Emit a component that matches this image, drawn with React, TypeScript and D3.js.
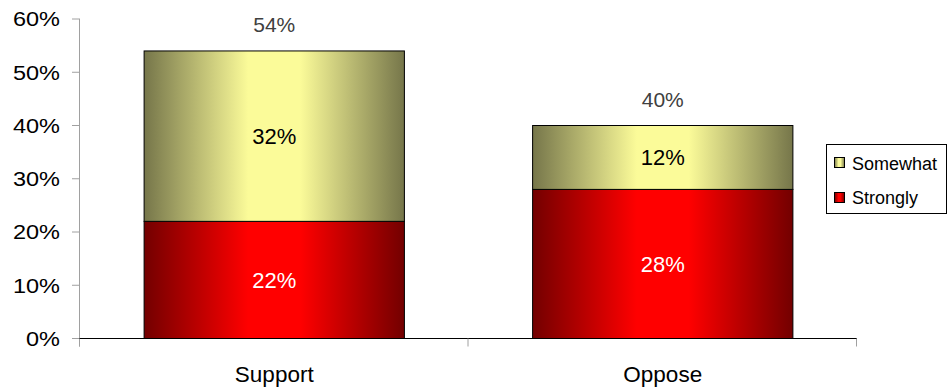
import React from "react";
import * as d3 from "d3";

const categories = ["Support", "Oppose"];
const strongly = [22, 28];
const somewhat = [32, 12];
const totals = [54, 40];
const yTicks = [0, 10, 20, 30, 40, 50, 60];

export default function App() {
  const W = 948, H = 390;
  const x = d3.scaleBand().domain(categories).range([80, 857]).paddingInner(0.33).paddingOuter(0.165);
  const y = d3.scaleLinear().domain([0, 60]).range([338.5, 19]);
  const font = "Liberation Sans, Arial, sans-serif";
  const step = x.step();
  return (
    <svg width={W} height={H} style={{ position: "absolute", left: 0, top: 0 }} fontFamily={font}>
      <defs>
        <linearGradient id="gRed" x1="0" x2="1" y1="0" y2="0">
          <stop offset="0" stopColor="#730000" />
          <stop offset="0.4" stopColor="#ff0000" />
          <stop offset="0.6" stopColor="#ff0000" />
          <stop offset="1" stopColor="#730000" />
        </linearGradient>
        <linearGradient id="gYel" x1="0" x2="1" y1="0" y2="0">
          <stop offset="0" stopColor="#76764a" />
          <stop offset="0.4" stopColor="#fbfb99" />
          <stop offset="0.6" stopColor="#fbfb99" />
          <stop offset="1" stopColor="#76764a" />
        </linearGradient>
      </defs>
      {/* y axis */}
      <line x1={79.5} x2={79.5} y1={y(60)} y2={y(0) + 8} stroke="#a0a0a0" strokeWidth={1} />
      {yTicks.map((t) => (
        <g key={t}>
          <line x1={72} x2={80} y1={y(t)} y2={y(t)} stroke="#a0a0a0" />
          <text transform={`translate(60,${y(t)}) scale(1.12,1)`} dy="0.35em" textAnchor="end" fontSize={21} fill="#000">{t}%</text>
        </g>
      ))}
      {/* bars */}
      {categories.map((c, i) => {
        const bx = x(c)!;
        const bw = x.bandwidth();
        const cx = bx + bw / 2;
        return (
          <g key={c}>
            <rect x={bx} y={y(strongly[i])} width={bw} height={y(0) - y(strongly[i])} fill="url(#gRed)" stroke="#000" strokeWidth={1} />
            <rect x={bx} y={y(strongly[i] + somewhat[i])} width={bw} height={y(strongly[i]) - y(strongly[i] + somewhat[i])} fill="url(#gYel)" stroke="#000" strokeWidth={1} />
            <text x={cx} y={(y(0) + y(strongly[i])) / 2} dy="0.35em" textAnchor="middle" fontSize={22} fill="#fff">{strongly[i]}%</text>
            <text x={cx} y={(y(strongly[i]) + y(strongly[i] + somewhat[i])) / 2} dy="0.35em" textAnchor="middle" fontSize={22} fill="#000">{somewhat[i]}%</text>
            <text x={cx} y={y(totals[i]) - 26} dy="0.35em" textAnchor="middle" fontSize={21} fill="#404040">{totals[i]}%</text>
            <text x={cx} y={382} textAnchor="middle" fontSize={22.5} fill="#000">{c}</text>
          </g>
        );
      })}
      {/* x axis */}
      <line x1={79} x2={857} y1={y(0)} y2={y(0)} stroke="#000" strokeWidth={1} />
      {[0, 1, 2].map((k) => (
        <line key={k} x1={79.5 + k * step} x2={79.5 + k * step} y1={y(0)} y2={y(0) + 8} stroke="#a0a0a0" />
      ))}
      {/* legend */}
      <rect x={826.5} y={144.5} width={120} height={69} fill="#fff" stroke="#000" />
      <rect x={834.5} y={157.5} width={10} height={10} fill="url(#gYel)" stroke="#000" />
      <text x={852} y={169.5} fontSize={18} fill="#000">Somewhat</text>
      <rect x={834.5} y={192.5} width={10} height={10} fill="url(#gRed)" stroke="#000" />
      <text x={852} y={203.5} fontSize={18} fill="#000">Strongly</text>
    </svg>
  );
}
